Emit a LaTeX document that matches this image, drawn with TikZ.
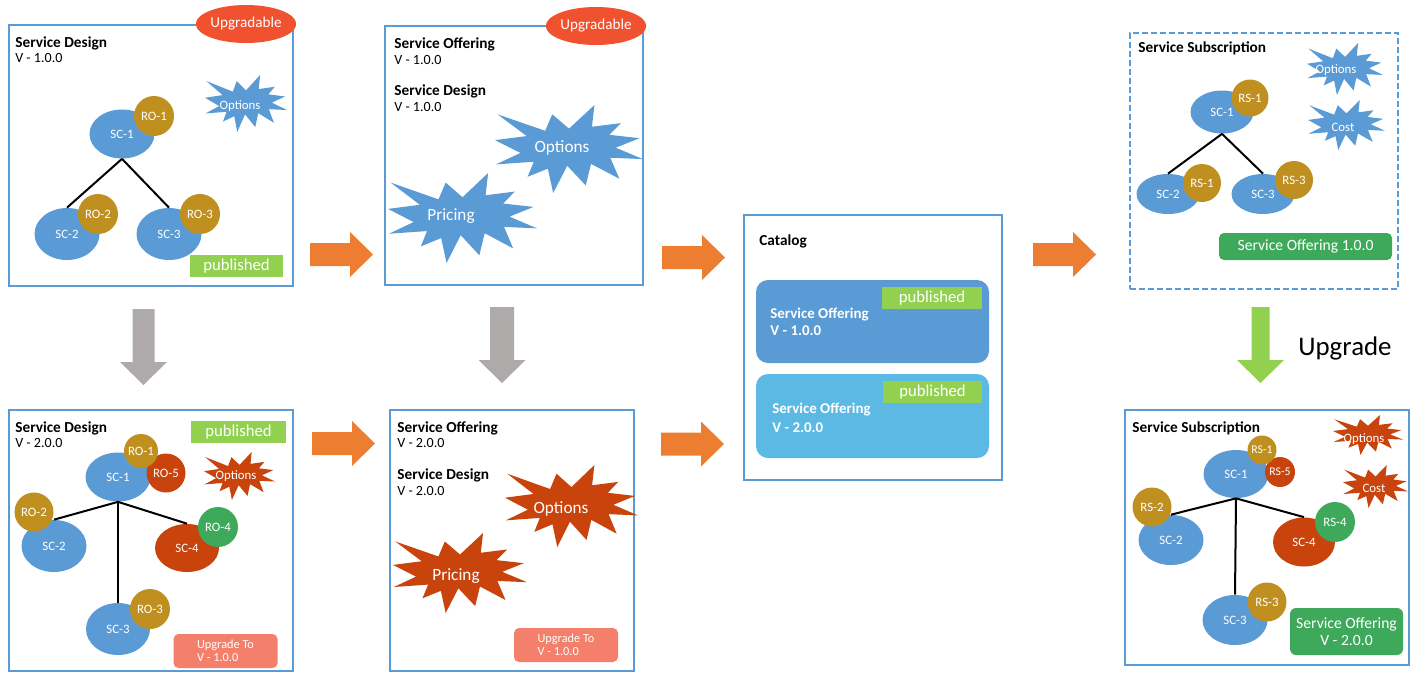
\documentclass[tikz,border=0pt]{standalone}
\usepackage{fontspec}
\setmainfont{Carlito}
\usepackage{tikz}
\usetikzlibrary{shapes.geometric}

\newdimen\pxu \pxu=0.02cm

\definecolor{frameblue}{HTML}{5B9BD5}
\definecolor{scblue}{HTML}{5B9BD5}
\definecolor{rogold}{HTML}{BF9020}
\definecolor{rust}{HTML}{C9430D}
\definecolor{okgreen}{HTML}{3FA95B}
\definecolor{pubgreen}{HTML}{92D050}
\definecolor{upred}{HTML}{F0512F}
\definecolor{salmon}{HTML}{F4806B}
\definecolor{skyblue}{HTML}{5BB9E3}
\definecolor{arrorange}{HTML}{ED7D31}
\definecolor{arrgrey}{HTML}{AEAAAA}
\definecolor{arrgreen}{HTML}{92D050}

\tikzset{
  rarrow/.pic={\fill (0,-11.5) -- (40,-11.5) -- (40,-22.5) -- (63,0) -- (40,22.5) -- (40,11.5) -- (0,11.5) -- cycle;},
  darrow/.pic={\fill (-#1,0) -- (#1,0) -- (#1,53) -- (23.5,53) -- (0,76) -- (-23.5,53) -- (-#1,53) -- cycle;},
  burst/.pic={\fill (0,-23.1) -- (17.2,-50) -- (15.5,-25.3) -- (35.1,-29.4) -- (27.3,-16.1) -- (47.7,-12.3)
      -- (31.5,-1.5) -- (50,11.5) -- (27.9,9.9) -- (34,33.8) -- (14.9,16.9) -- (11.3,41.4) -- (-1.2,19.1)
      -- (-10.7,50) -- (-14.3,22.3) -- (-28,31.6) -- (-23.8,14.5) -- (-49.4,17.5) -- (-32.8,4.5)
      -- (-50,-10.1) -- (-28.6,-14.7) -- (-48.3,-39.4) -- (-16.1,-20.7) -- (-11.3,-39.4) -- cycle;}
}

\begin{document}
\begin{tikzpicture}[
  x=0.02cm, y=-0.02cm,
  panel/.style={draw=frameblue, line width=2\pxu, inner sep=0},
  ttl/.style={anchor=base west, inner sep=0, font=\fontsize{8.7}{10}\selectfont\bfseries},
  ver/.style={anchor=base west, inner sep=0, font=\fontsize{8}{10}\selectfont},
  sc/.style={ellipse, fill=scblue, text=white, inner sep=0, minimum width=65\pxu, minimum height=49\pxu, font=\fontsize{7.3}{8}\selectfont},
  ro/.style={circle, fill=rogold, text=white, inner sep=0, minimum size=40\pxu, font=\fontsize{7.3}{8}\selectfont},
  wtxt/.style={text=white, inner sep=0, font=\fontsize{7.3}{8}\selectfont},
  bigtxt/.style={text=white, inner sep=0, font=\fontsize{9.8}{11}\selectfont},
  pub/.style={fill=pubgreen, text=white, inner sep=0, minimum height=22\pxu, font=\fontsize{9.5}{11}\selectfont},
  upg/.style={ellipse, fill=upred, text=white, inner sep=0, minimum width=93\pxu, minimum height=38\pxu, font=\fontsize{8.6}{10}\selectfont},
  upto/.style={fill=salmon, rounded corners=5\pxu, text=white, align=left, inner sep=0, minimum width=104\pxu, minimum height=34\pxu, font=\fontsize{7}{7.6}\selectfont},
  sofr/.style={fill=okgreen, rounded corners=5\pxu, text=white, align=center, inner sep=0, font=\fontsize{8.9}{9.4}\selectfont},
  cbox/.style={rounded corners=12\pxu, inner sep=0, minimum width=233\pxu, minimum height=83\pxu},
  ctxt/.style={anchor=base west, inner sep=0, text=white, font=\fontsize{8.5}{10}\selectfont\bfseries},
  tree/.style={line width=2\pxu, draw=black}
]
\useasboundingbox (0,0) rectangle (1415,673);

% panels
\node[panel, minimum width=284\pxu, minimum height=261\pxu] (sd1) at (150.5,155.5) {};
\node[panel, minimum width=284\pxu, minimum height=261\pxu] (sd2) at (150.5,540.5) {};
\node[panel, minimum width=258\pxu, minimum height=259\pxu] (so1) at (514,155.5) {};
\node[panel, minimum width=244\pxu, minimum height=261\pxu] (so2) at (512,540.5) {};
\node[panel, minimum width=258\pxu, minimum height=265\pxu] (cat) at (873,347.5) {};
\node[panel, dashed, dash pattern=on 6\pxu off 3\pxu, minimum width=268\pxu, minimum height=256\pxu] (ss1) at (1264,161) {};
\node[panel, minimum width=284\pxu, minimum height=255\pxu] (ss2) at (1267,537.5) {};

% service design 1.0.0
\node[upg] (sd1_upg) at (246,24) {Upgradable};
\node[ttl] (sd1_t) at (15,47) {Service Design};
\node[ver] (sd1_v) at (15,62) {V - 1.0.0};
\pic[fill=scblue, xscale=0.82, yscale=0.57] (sd1_burst) at (246,103.5) {burst};
\node[wtxt] (sd1_opt) at (240,106) {Options};
\node[sc] (sd1_sc1) at (122,134) {SC-1};
\node[sc, minimum height=52\pxu] (sd1_sc2) at (67,234) {SC-2};
\node[sc, minimum height=52\pxu] (sd1_sc3) at (169,234) {SC-3};
\draw[tree] (sd1_sc1.south) -- (sd1_sc2.north);
\draw[tree] (sd1_sc1.south) -- (sd1_sc3.north);
\node[ro] (sd1_ro1) at (154,116) {RO-1};
\node[ro] (sd1_ro2) at (98,214) {RO-2};
\node[ro] (sd1_ro3) at (200,214) {RO-3};
\node[pub, minimum width=93\pxu] (sd1_pub) at (236.5,266) {published};

% service design 2.0.0
\node[ttl] (sd2_t) at (15,432) {Service Design};
\node[ver] (sd2_v) at (15,447) {V - 2.0.0};
\node[pub, minimum width=95\pxu] (sd2_pub) at (238.5,432) {published};
\pic[fill=rust, xscale=0.71, yscale=0.48] (sd2_burst) at (239.5,476) {burst};
\node[wtxt] (sd2_opt) at (236,476) {Options};
\node[sc] (sd2_sc1) at (118,477) {SC-1};
\node[sc, minimum height=52\pxu] (sd2_sc2) at (54,546) {SC-2};
\node[sc, fill=rust, minimum width=64\pxu, minimum height=48\pxu] (sd2_sc4) at (187,548) {SC-4};
\node[sc, minimum width=64\pxu, minimum height=52\pxu] (sd2_sc3) at (118,629) {SC-3};
\draw[tree] (sd2_sc1.south) -- (sd2_sc2.north);
\draw[tree] (sd2_sc1.south) -- (sd2_sc4.north);
\draw[tree] (sd2_sc1.south) -- (sd2_sc3.north);
\node[ro, fill=rust, minimum size=39\pxu] (sd2_ro5) at (166,473) {RO-5};
\node[ro, minimum size=34\pxu] (sd2_ro1) at (141,451) {RO-1};
\node[ro, minimum size=39\pxu] (sd2_ro2) at (34,512) {RO-2};
\node[ro, fill=okgreen] (sd2_ro4) at (218,527) {RO-4};
\node[ro] (sd2_ro3) at (150,609) {RO-3};
\node[upto] (sd2_up) at (225.5,651) {Upgrade To\\V - 1.0.0};

% service offering 1.0.0
\node[upg] (so1_upg) at (596,26) {Upgradable};
\node[ttl] (so1_t) at (394,48) {Service Offering};
\node[ver] (so1_v) at (394,64) {V - 1.0.0};
\node[ttl] (so1_d) at (394,95) {Service Design};
\node[ver] (so1_dv) at (394,111) {V - 1.0.0};
\pic[fill=scblue, xscale=1.48, yscale=0.88] (so1_burst1) at (569,149) {burst};
\node[bigtxt] (so1_opt) at (562,148) {Options};
\pic[fill=scblue, xscale=1.49, yscale=0.90] (so1_burst2) at (462.5,218) {burst};
\node[bigtxt] (so1_pri) at (451,216) {Pricing};

% service offering 2.0.0
\node[ttl] (so2_t) at (397,432) {Service Offering};
\node[ver] (so2_v) at (397,447) {V - 2.0.0};
\node[ttl] (so2_d) at (397,479) {Service Design};
\node[ver] (so2_dv) at (397,495) {V - 2.0.0};
\pic[fill=rust, xscale=1.33, yscale=0.82] (so2_burst1) at (571.5,506) {burst};
\node[bigtxt] (so2_opt) at (561,509) {Options};
\pic[fill=rust, xscale=1.34, yscale=0.80] (so2_burst2) at (460,573) {burst};
\node[bigtxt] (so2_pri) at (456,576) {Pricing};
\node[upto] (so2_up) at (566,645) {Upgrade To\\V - 1.0.0};

% catalog
\node[ttl] (cat_t) at (759,245) {Catalog};
\node[cbox, fill=scblue] (cat_o1) at (872.5,321.5) {};
\node[cbox, fill=skyblue, minimum height=84\pxu] (cat_o2) at (872.5,416) {};
\node[pub, minimum width=100\pxu] (cat_pub1) at (932,298) {published};
\node[pub, minimum width=99\pxu] (cat_pub2) at (932.5,392) {published};
\node[ctxt] (cat_o1t) at (770,318) {Service Offering};
\node[ctxt] (cat_o1v) at (770,335) {V - 1.0.0};
\node[ctxt] (cat_o2t) at (772,413) {Service Offering};
\node[ctxt] (cat_o2v) at (772,432) {V - 2.0.0};

% service subscription 1.0.0
\node[ttl] (ss1_t) at (1138,52) {Service Subscription};
\pic[fill=scblue, xscale=0.76, yscale=0.52] (ss1_burst1) at (1345,69) {burst};
\node[wtxt] (ss1_opt) at (1336,70) {Options};
\pic[fill=scblue, xscale=0.77, yscale=0.50] (ss1_burst2) at (1346.5,125) {burst};
\node[wtxt] (ss1_cost) at (1343,127) {Cost};
\node[sc, minimum width=63\pxu, minimum height=43\pxu] (ss1_sc1) at (1222,112) {SC-1};
\node[sc, minimum width=63\pxu, minimum height=40\pxu] (ss1_sc2) at (1168,194) {SC-2};
\node[sc, minimum width=63\pxu, minimum height=40\pxu] (ss1_sc3) at (1263,194) {SC-3};
\draw[tree] (ss1_sc1.south) -- (ss1_sc2.north);
\draw[tree] (ss1_sc1.south) -- (ss1_sc3.north);
\node[ro, minimum size=37\pxu] (ss1_rs1) at (1250,98) {RS-1};
\node[ro, minimum size=38\pxu] (ss1_rs1b) at (1202,183) {RS-1};
\node[ro, minimum size=38\pxu] (ss1_rs3) at (1294,180) {RS-3};
\node[sofr, minimum width=173\pxu, minimum height=27\pxu] (ss1_so) at (1305.5,246.5) {Service Offering 1.0.0};

% service subscription 2.0.0
\node[ttl] (ss2_t) at (1132,432) {Service Subscription};
\pic[fill=rust, xscale=0.70, yscale=0.40] (ss2_burst1) at (1368,435) {burst};
\node[wtxt] (ss2_opt) at (1364,439) {Options};
\pic[fill=rust, xscale=0.65, yscale=0.43] (ss2_burst2) at (1375.5,486.5) {burst};
\node[wtxt] (ss2_cost) at (1374,488) {Cost};
\node[sc, minimum height=48\pxu] (ss2_sc1) at (1236,474) {SC-1};
\node[sc, minimum height=50\pxu] (ss2_sc2) at (1171,540) {SC-2};
\node[sc, fill=rust, minimum width=62\pxu, minimum height=49\pxu] (ss2_sc4) at (1304,542) {SC-4};
\node[sc, minimum height=50\pxu] (ss2_sc3) at (1235,620) {SC-3};
\draw[tree] (ss2_sc1.south) -- (ss2_sc2.north);
\draw[tree] (ss2_sc1.south) -- (ss2_sc4.north);
\draw[tree] (ss2_sc1.south) -- (ss2_sc3.north);
\node[ro, fill=rust, minimum size=30\pxu, font=\fontsize{6.7}{7}\selectfont] (ss2_rs5) at (1280,472) {RS-5};
\node[ro, minimum size=29\pxu, font=\fontsize{6.7}{7}\selectfont] (ss2_rs1) at (1262,450) {RS-1};
\node[ro, minimum size=39\pxu] (ss2_rs2) at (1152,507) {RS-2};
\node[ro, fill=okgreen] (ss2_rs4) at (1335,522) {RS-4};
\node[ro, minimum size=39\pxu] (ss2_rs3) at (1267,602) {RS-3};
\node[sofr, minimum width=113\pxu, minimum height=47\pxu, rounded corners=6\pxu] (ss2_so) at (1346.5,631.5) {Service Offering\\V - 2.0.0};

% block arrows
\pic[fill=arrorange] (go1) at (310,254.5) {rarrow};
\pic[fill=arrorange] (go2) at (662,257.5) {rarrow};
\pic[fill=arrorange] (go3) at (312,443.5) {rarrow};
\pic[fill=arrorange] (go4) at (661,444) {rarrow};
\pic[fill=arrorange] (go5) at (1033,254.5) {rarrow};
\pic[fill=arrgrey] (dn1) at (143.5,309) {darrow=11};
\pic[fill=arrgrey] (dn2) at (502,307) {darrow=12};
\pic[fill=arrgreen] (dn3) at (1260.5,307) {darrow=9};
\node[anchor=base west, inner sep=0, font=\fontsize{15.3}{17}\selectfont] (upgrade) at (1298,355) {Upgrade};
\end{tikzpicture}
\end{document}
